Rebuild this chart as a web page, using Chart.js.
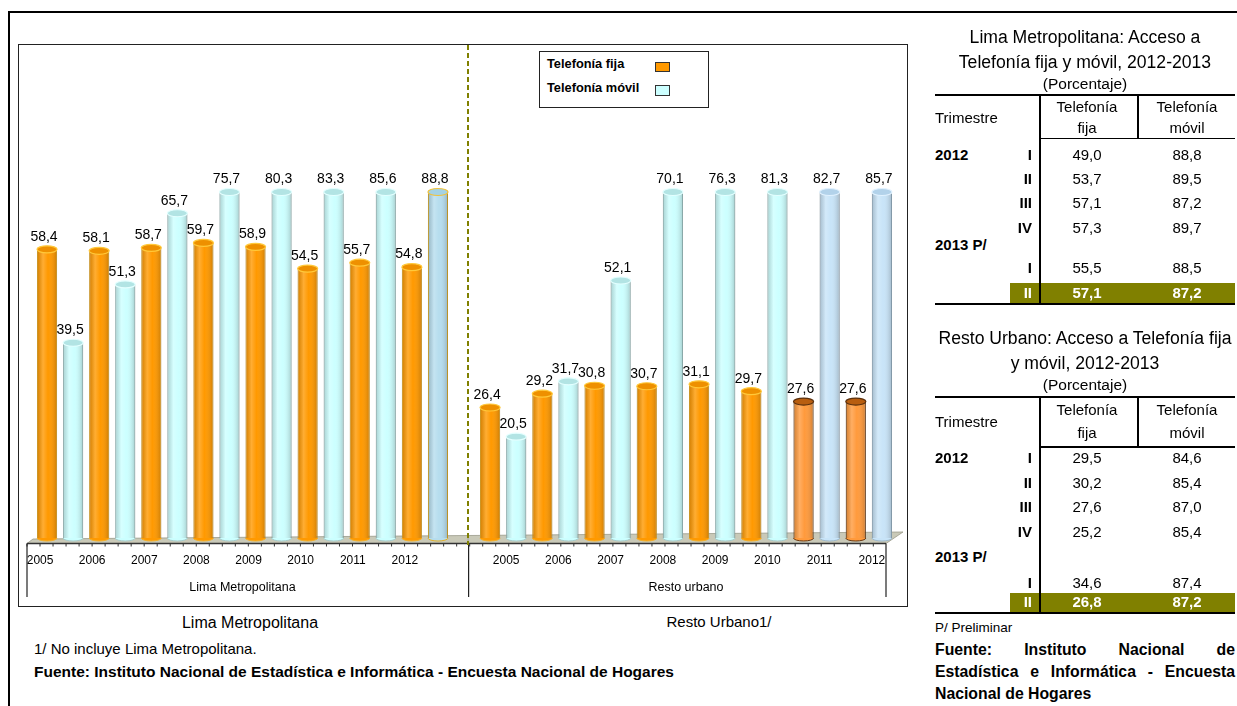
<!DOCTYPE html>
<html><head><meta charset="utf-8">
<script src="https://cdn.jsdelivr.net/npm/chart.js@4.4.0/dist/chart.umd.min.js"></script>
<style>
body{margin:0;background:#fff;width:1237px;height:706px;overflow:hidden;position:relative;font-family:"Liberation Sans",Arial,sans-serif;color:#000}
.abs{position:absolute;white-space:nowrap;z-index:3}
.rule{position:absolute;z-index:3}
canvas{position:absolute;z-index:2}
</style></head><body>
<canvas id="c1" width="450" height="563" style="left:18px;top:44px;width:450px;height:563px"></canvas>
<canvas id="c2" width="440" height="563" style="left:468px;top:44px;width:440px;height:563px"></canvas>
<script>
// ---------- DATA ----------
const years = ['2005','2006','2007','2008','2009','2010','2011','2012'];
const groups = ['Lima Metropolitana','Resto urbano'];
const seriesNames = ['Telefonía fija','Telefonía móvil'];
const limaFija  = [58.4,58.1,58.7,59.7,58.9,54.5,55.7,54.8];
const limaMovil = [39.5,51.3,65.7,75.7,80.3,83.3,85.6,88.8];
const restoFija  = [26.4,29.2,30.8,30.7,31.1,29.7,27.6,27.6];
const restoMovil = [20.5,31.7,52.1,70.1,76.3,81.3,82.7,85.7];

const tableQuarters = ['I','II','III','IV','I','II'];
const tableYears = ['2012','2013 P/'];
const limaTabFija  = [49.0,53.7,57.1,57.3,55.5,57.1];
const limaTabMovil = [88.8,89.5,87.2,89.7,88.5,87.2];
const restoTabFija  = [29.5,30.2,27.6,25.2,34.6,26.8];
const restoTabMovil = [84.6,85.4,87.0,85.4,87.4,87.2];

const fmt = v => v.toFixed(1).replace('.', ',');
const FONT = '"Liberation Sans", Arial, sans-serif';

// ---------- HTML helpers ----------
function text(str, x, y, o = {}) {
  const d = document.createElement('div');
  d.className = 'abs';
  const size = o.size || 15;
  d.style.fontSize = size + 'px';
  d.style.lineHeight = (size * 1.2) + 'px';
  d.style.top = (y - 0.59 * size) + 'px';
  if (o.bold) d.style.fontWeight = 'bold';
  if (o.color) d.style.color = o.color;
  const a = o.align || 'left';
  if (a === 'left') d.style.left = x + 'px';
  else if (a === 'center') { d.style.left = (x - 300) + 'px'; d.style.width = '600px'; d.style.textAlign = 'center'; }
  else if (a === 'right') { d.style.left = (x - 600) + 'px'; d.style.width = '600px'; d.style.textAlign = 'right'; }
  else if (a === 'justify') { d.style.left = x + 'px'; d.style.width = o.width + 'px'; d.style.textAlign = 'justify'; d.style.textAlignLast = 'justify'; d.style.whiteSpace = 'normal'; }
  d.textContent = str;
  document.body.appendChild(d);
  return d;
}
function rect(x, y, w, h, color, z) {
  const d = document.createElement('div');
  d.className = 'rule';
  Object.assign(d.style, { left: x + 'px', top: y + 'px', width: w + 'px', height: h + 'px', background: color });
  if (z !== undefined) d.style.zIndex = z;
  document.body.appendChild(d);
  return d;
}

// outer frame
rect(8, 11, 1229, 1.5, '#000');
rect(8, 11, 1.5, 695, '#000');
// chart frame
const fr = document.createElement('div');
Object.assign(fr.style, { position: 'absolute', left: '18px', top: '44px', width: '888px', height: '561px', border: '1.5px solid #222', zIndex: 1 });
document.body.appendChild(fr);
// dashed separator
const dl = rect(467, 45, 2, 500, 'transparent');
dl.style.background = 'repeating-linear-gradient(to bottom,#808000 0 5px,transparent 5px 8px)';

// legend
const lg = document.createElement('div');
Object.assign(lg.style, { position: 'absolute', left: '539px', top: '51px', width: '168px', height: '55px', border: '1.5px solid #222', background: '#fff', zIndex: 3 });
document.body.appendChild(lg);
text(seriesNames[0], 547, 64, { size: 12.8, bold: true });
text(seriesNames[1], 547, 88, { size: 12.8, bold: true });
const sw1 = rect(655, 62, 13, 8, '#FF9900'); sw1.style.border = '1px solid #333'; sw1.style.zIndex = 4;
const sw2 = rect(655, 85, 13, 9, '#CCFFFF'); sw2.style.border = '1px solid #333'; sw2.style.zIndex = 4;

// captions & notes
text('Lima Metropolitana', 250, 622, { size: 16, align: 'center' });
text('Resto Urbano1/', 719, 622, { size: 15, align: 'center' });
text('1/ No incluye Lima Metropolitana.', 34, 649, { size: 15 });
text('Fuente: Instituto Nacional de Estadística e Informática - Encuesta Nacional de Hogares', 34, 672, { size: 15.5, bold: true });

// ---------- tables ----------
function buildTable(t) {
  const L = 935, R = 1235, C = 1085, VX = 1039, VX2 = 1137, X3 = 1087, X4 = 1187, XR = 1032;
  text(t.title[0], C, t.titleY[0], { size: 17.6, align: 'center' });
  text(t.title[1], C, t.titleY[1], { size: 17.6, align: 'center' });
  text('(Porcentaje)', C, t.pctY, { size: 15.5, align: 'center' });
  rect(L, t.top, R - L, 2, '#000');
  rect(VX, t.top, 1.5, t.bottom - t.top, '#000', 5);
  rect(VX2, t.top, 1.5, t.hRule - t.top, '#000');
  rect(VX, t.hRule, R - VX, 1.5, '#000');
  text('Trimestre', L, t.trimY, { size: 15 });
  text('Telefonía', X3, t.telY, { size: 15, align: 'center' });
  text('fija', X3, t.subY, { size: 15, align: 'center' });
  text('Telefonía', X4, t.telY, { size: 15, align: 'center' });
  text('móvil', X4, t.subY, { size: 15, align: 'center' });
  rect(1010, t.hl[0], R - 1010, t.hl[1] - t.hl[0], '#808000');
  text(tableYears[0], L, t.rows[0], { size: 15, bold: true });
  text(tableYears[1], L, t.y2013, { size: 15, bold: true });
  tableQuarters.forEach((q, i) => {
    const last = i === tableQuarters.length - 1;
    const col = last ? '#fff' : '#000';
    text(q, XR, t.rows[i], { size: 15, bold: true, align: 'right', color: col });
    text(fmt(t.fija[i]), X3, t.rows[i], { size: 15, bold: last, align: 'center', color: col });
    text(fmt(t.movil[i]), X4, t.rows[i], { size: 15, bold: last, align: 'center', color: col });
  });
  rect(L, t.bottom, R - L, 2, '#000');
}
buildTable({ title: ['Lima Metropolitana: Acceso a', 'Telefonía fija y móvil, 2012-2013'], titleY: [37, 62], pctY: 84,
  top: 94, trimY: 118, telY: 107, subY: 128, hRule: 137.5, rows: [155, 179, 203, 228, 268, 293], y2013: 245,
  hl: [283, 303], bottom: 303, fija: limaTabFija, movil: limaTabMovil });
buildTable({ title: ['Resto Urbano: Acceso a Telefonía fija', 'y móvil, 2012-2013'], titleY: [338, 363], pctY: 385,
  top: 396, trimY: 422, telY: 410, subY: 433, hRule: 446, rows: [458, 483, 507, 532, 583, 602], y2013: 557,
  hl: [593, 612], bottom: 612, fija: restoTabFija, movil: restoTabMovil });

text('P/ Preliminar', 935, 628, { size: 13.5 });
text('Fuente: Instituto Nacional de', 935, 650, { size: 15.8, bold: true, align: 'justify', width: 300 });
text('Estadística e Informática - Encuesta', 935, 672, { size: 15.8, bold: true, align: 'justify', width: 300 });
text('Nacional de Hogares', 935, 694, { size: 15.8, bold: true });

// ---------- chart styles ----------
const STYLE = {
  fija:     { bg: '#FF9900', border: '#F2B02A', top: '#EE9000', rim: '#FFC93A' },
  movil:    { bg: '#CCFFFF', border: '#A6CCCC', top: '#B2E4E4', rim: '#E4FFFF' },
  movilSel: { bg: '#B6DDEE', border: '#E2B02A', top: '#A4D2E4', rim: '#F0C23C' },
  fijaAlt:  { bg: '#FF9A3C', border: '#6B3A12', top: '#B85E10', rim: '#5A300E' },
  movilAlt: { bg: '#C8E4F8', border: '#9EB9CC', top: '#B2D2EA', rim: '#E2F2FF' }
};
function styleOf(chartOpts, di, i) {
  const key = di === 0 ? 'fija' : 'movil';
  const ov = chartOpts.overrides[key] || {};
  return STYLE[ov[i] || key];
}

const PAGE_TOP = 44;
const floorBack = px => 539 - (px - 33) * 7 / 870; // page coords
const FRONT = 543.5;

const cylPlugin = {
  id: 'cyl',
  beforeDatasetsDraw(chart, args, o) {
    const ctx = chart.ctx, ox = o.ox;
    const [fx0, fx1, bx1] = o.floor;
    ctx.save();
    ctx.beginPath();
    ctx.moveTo(fx0 - ox, FRONT - PAGE_TOP);
    ctx.lineTo(fx1 - ox, FRONT - PAGE_TOP);
    ctx.lineTo(bx1 - ox, floorBack(bx1) - PAGE_TOP);
    const bx0 = o.backLeft;
    ctx.lineTo(bx0 - ox, floorBack(bx0) - PAGE_TOP);
    ctx.closePath();
    ctx.fillStyle = '#C9C9B8';
    ctx.fill();
    ctx.strokeStyle = '#9a9a8a'; ctx.lineWidth = 0.8; ctx.stroke();
    // front edge
    ctx.beginPath();
    ctx.moveTo(fx0 - ox, FRONT - PAGE_TOP); ctx.lineTo(fx1 - ox, FRONT - PAGE_TOP);
    ctx.strokeStyle = '#333'; ctx.lineWidth = 1.3; ctx.stroke();
    // small ticks along the front edge
    ctx.lineWidth = 1;
    for (let px = 27; px <= 886; px += 13.02) {
      if (px < fx0 - 0.1 || px > fx1 + 0.1) continue;
      ctx.beginPath();
      ctx.moveTo(px - ox, FRONT - PAGE_TOP); ctx.lineTo(px - ox, FRONT - PAGE_TOP + 3);
      ctx.stroke();
    }
    ctx.restore();
  },
  afterDatasetsDraw(chart, args, o) {
    const ctx = chart.ctx, ca = chart.chartArea;
    ctx.save();
    const labels = [];
    chart.data.datasets.forEach((ds, di) => {
      const meta = chart.getDatasetMeta(di);
      meta.data.forEach((el, i) => {
        const { x, y, base, width } = el.getProps(['x', 'y', 'base', 'width'], true);
        const st = styleOf(o, di, i);
        const top = Math.max(y, ca.top);
        const l = x - width / 2;
        const g = ctx.createLinearGradient(l, 0, l + width, 0);
        g.addColorStop(0, 'rgba(0,0,0,0.17)');
        g.addColorStop(0.3, 'rgba(255,255,255,0.2)');
        g.addColorStop(0.55, 'rgba(255,255,255,0)');
        g.addColorStop(1, 'rgba(0,0,0,0.2)');
        ctx.fillStyle = g;
        ctx.fillRect(l, top, width, base - top);
        ctx.beginPath(); ctx.ellipse(x, base, width / 2, 3, 0, 0, Math.PI);
        ctx.fillStyle = st.bg; ctx.fill();
        ctx.strokeStyle = st.border; ctx.lineWidth = 1; ctx.stroke();
        ctx.beginPath(); ctx.ellipse(x, top, width / 2, 3.5, 0, 0, 2 * Math.PI);
        ctx.fillStyle = st.top; ctx.fill();
        ctx.strokeStyle = st.rim; ctx.lineWidth = 1.2; ctx.stroke();
        labels.push([fmt(ds.data[i]), x - 3, top - 12.5]);
      });
    });
    ctx.fillStyle = '#000';
    ctx.font = '14px ' + FONT;
    ctx.textAlign = 'center'; ctx.textBaseline = 'middle';
    labels.forEach(([t, x, y]) => ctx.fillText(t, x, y));
    ctx.restore();
  },
  afterDraw(chart, args, o) {
    const ctx = chart.ctx;
    ctx.save();
    ctx.strokeStyle = '#222'; ctx.lineWidth = 1.2;
    o.groupLines.forEach(px => {
      ctx.beginPath();
      ctx.moveTo(px - o.ox, FRONT - PAGE_TOP); ctx.lineTo(px - o.ox, 597 - PAGE_TOP);
      ctx.stroke();
    });
    ctx.restore();
  }
};

function makeChart(id, fija, movil, group, cfg) {
  return new Chart(document.getElementById(id), {
    type: 'bar',
    data: {
      labels: years,
      datasets: [fija, movil].map((d, di) => ({
        label: seriesNames[di],
        data: d,
        backgroundColor: c => styleOf(cfg, di, c.dataIndex).bg,
        borderColor: c => styleOf(cfg, di, c.dataIndex).border,
        borderWidth: 1,
        barPercentage: 0.77,
        categoryPercentage: 1.0
      }))
    },
    options: {
      responsive: false, animation: false, events: [],
      layout: { padding: { left: cfg.padL, right: cfg.padR, top: 148, bottom: 0 } },
      plugins: { legend: { display: false }, tooltip: { enabled: false }, cyl: cfg },
      scales: {
        x: {
          grid: { display: false, drawTicks: false }, border: { display: false },
          ticks: { color: '#000', font: { family: FONT, size: 12 }, padding: 15, labelOffset: cfg.labelOffset, maxRotation: 0, autoSkip: false },
          title: { display: true, text: group, color: '#000', font: { family: FONT, size: 12.5 }, padding: { top: 0, bottom: 12 } },
          afterFit(s) { s.height = 69; }
        },
        y: { display: false, min: 0, max: 70 }
      }
    },
    plugins: [cylPlugin]
  });
}

makeChart('c1', limaFija, limaMovil, groups[0], {
  padL: 16, padR: 17, labelOffset: -20, ox: 18,
  floor: [27, 468, 468], backLeft: 33, groupLines: [27],
  overrides: { movil: { 7: 'movilSel' } }
});
makeChart('c2', restoFija, restoMovil, groups[1], {
  padL: 9, padR: 13, labelOffset: 3, ox: 468,
  floor: [468, 886, 903], backLeft: 468, groupLines: [468.6, 886],
  overrides: { fija: { 6: 'fijaAlt', 7: 'fijaAlt' }, movil: { 6: 'movilAlt', 7: 'movilAlt' } }
});
</script>
</body></html>
